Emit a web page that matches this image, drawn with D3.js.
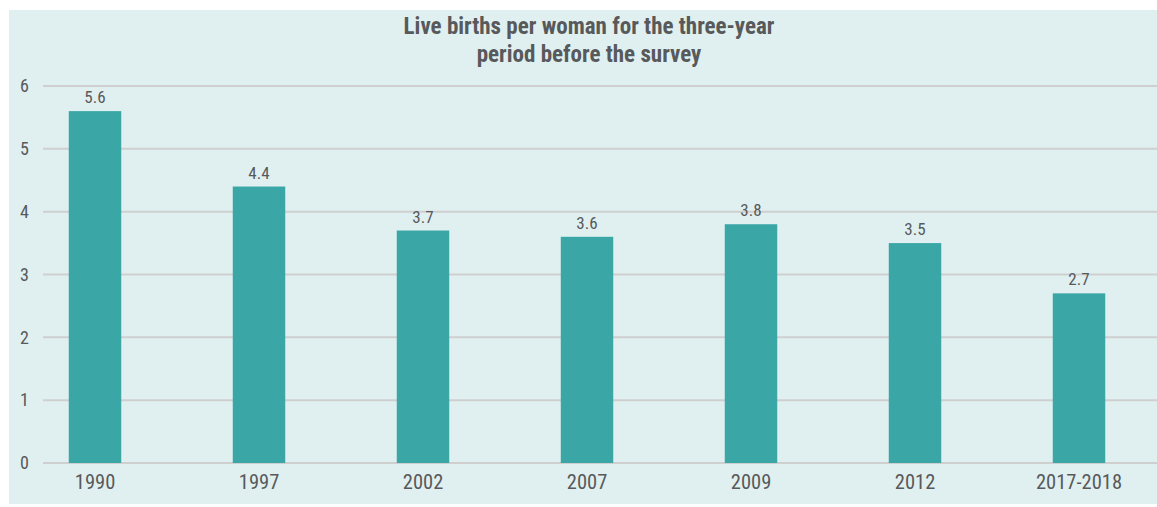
<!DOCTYPE html>
<html>
<head>
<meta charset="utf-8">
<script src="https://cdn.jsdelivr.net/npm/d3@7"></script>
<style>
  html, body { margin: 0; padding: 0; background: #ffffff; }
  svg { display: block; }
  text { font-family: "Liberation Sans Narrow", "Roboto Condensed", "Arial Narrow", sans-serif; fill: #58595b; }
</style>
</head>
<body>
<svg id="chart" width="1157" height="507"></svg>
<script>
// Survey years and total fertility rate (live births per woman)
const categories = ["1990", "1997", "2002", "2007", "2009", "2012", "2017-2018"];
const births = [5.6, 4.4, 3.7, 3.6, 3.8, 3.5, 2.7];
const yTicks = [0, 1, 2, 3, 4, 5, 6];
const titleLines = ["Live births per woman for the three-year", "period before the survey"];

const svg = d3.select("#chart");
const W = 1157, H = 507;

// panel background
svg.append("rect")
  .attr("x", 9).attr("y", 10)
  .attr("width", W - 9).attr("height", 494)
  .attr("fill", "#e0f0f0");

const x = d3.scaleBand()
  .domain(categories)
  .range([13, 1161])
  .paddingInner(0.68)
  .paddingOuter(0.34);

const y = d3.scaleLinear()
  .domain([0, 6])
  .range([463, 86]);

// horizontal gridlines
svg.append("g")
  .selectAll("line")
  .data(yTicks)
  .join("line")
  .attr("x1", 43).attr("x2", W)
  .attr("y1", d => y(d)).attr("y2", d => y(d))
  .attr("stroke", "#cfcfcf")
  .attr("stroke-width", 2);

// y axis labels
const yAxis = d3.axisLeft(y).tickValues(yTicks).tickSize(0).tickPadding(0).tickFormat(d3.format("d"));
svg.append("g")
  .attr("transform", "translate(29,0)")
  .call(yAxis)
  .call(g => g.select(".domain").remove())
  .call(g => g.selectAll("text")
    .attr("font-size", 18)
    .attr("font-family", null)
    .attr("fill", "#58595b"));

// bars
svg.append("g")
  .selectAll("rect")
  .data(births)
  .join("rect")
  .attr("x", (d, i) => x(categories[i]))
  .attr("y", d => y(d))
  .attr("width", x.bandwidth())
  .attr("height", d => y(0) - y(d))
  .attr("fill", "#3aa6a6");

// value labels
svg.append("g")
  .selectAll("text")
  .data(births)
  .join("text")
  .attr("x", (d, i) => x(categories[i]) + x.bandwidth() / 2)
  .attr("y", d => y(d) - 8)
  .attr("text-anchor", "middle")
  .attr("font-size", 17)
  .text(d => d3.format(".1f")(d));

// x axis labels
const xAxis = d3.axisBottom(x).tickSize(0).tickPadding(0);
svg.append("g")
  .attr("transform", "translate(0,474)")
  .call(xAxis)
  .call(g => g.select(".domain").remove())
  .call(g => g.selectAll("text")
    .attr("font-size", 20.5)
    .attr("font-family", null)
    .attr("fill", "#58595b"));

// title
svg.append("text")
  .attr("x", 589).attr("y", 34)
  .attr("text-anchor", "middle")
  .attr("font-size", 23)
  .attr("font-weight", "bold")
  .selectAll("tspan")
  .data(titleLines)
  .join("tspan")
  .attr("x", 589)
  .attr("dy", (d, i) => i === 0 ? 0 : 28)
  .text(d => d);
</script>
</body>
</html>
